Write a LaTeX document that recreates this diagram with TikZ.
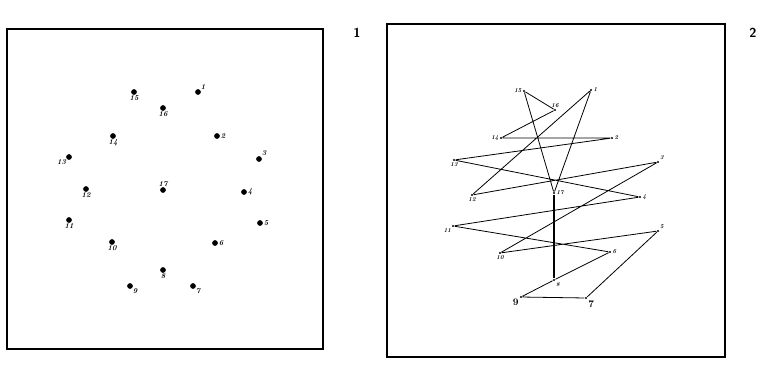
\documentclass[tikz,border=0pt]{standalone}
\usetikzlibrary{positioning}
\begin{document}
\begin{tikzpicture}[x=1pt, y=-1pt, line width=0.8pt,
    frame/.style = {draw, line width=1.2pt},
    dot/.style = {draw, circle, fill, inner sep=0pt, minimum size=4.8pt},
    pt/.style = {circle, fill, inner sep=0pt, minimum size=2.4pt},
    num/.style = {font=\fontsize{7.5}{7.5}\selectfont\bfseries\itshape, inner sep=0.6pt},
    tnum/.style = {font=\fontsize{6}{6}\selectfont\bfseries\itshape, inner sep=0.6pt},
    bnum/.style = {font=\fontsize{10}{10}\selectfont\bfseries, inner sep=0.8pt},
    sheet/.style = {font=\sffamily\bfseries\fontsize{13}{13}\selectfont, inner sep=1pt}]
    \useasboundingbox (0,0) rectangle (760,368);
    % first sheet: the points only
    \draw[frame] (7,29) rectangle (323,349);
    \node[sheet] (n1) at (357,33) {1};
    \node[dot, label={[num]above right:1}] (a1) at (198,92) {};
    \node[dot, label={[num]right:2}] (a2) at (217,136) {};
    \node[dot, label={[num]above right:3}] (a3) at (259,159) {};
    \node[dot, label={[num]right:4}] (a4) at (244,192) {};
    \node[dot, label={[num]right:5}] (a5) at (260,223) {};
    \node[dot, label={[num]right:6}] (a6) at (215,243) {};
    \node[dot, label={[num]below right:7}] (a7) at (193,286) {};
    \node[dot, label={[num]below:8}] (a8) at (163,270) {};
    \node[dot, label={[num]below right:9}] (a9) at (130,286) {};
    \node[dot, label={[num]below:10}] (a10) at (112,242) {};
    \node[dot, label={[num]below:11}] (a11) at (69,220) {};
    \node[dot, label={[num]below:12}] (a12) at (86,189) {};
    \node[dot, label={[num]below left:13}] (a13) at (69,157) {};
    \node[dot, label={[num]below:14}] (a14) at (113,136) {};
    \node[dot, label={[num]below:15}] (a15) at (134,92) {};
    \node[dot, label={[num]below:16}] (a16) at (163,108) {};
    \node[dot, label={[num]above:17}] (a17) at (163,190) {};
    % second sheet: the points joined up
    \draw[frame] (387,24) rectangle (725,357);
    \node[sheet] (n2) at (753,33) {2};
    \node[pt, label={[tnum]right:1}] (b1) at (591,90) {};
    \node[pt, label={[tnum]right:2}] (b2) at (612,138) {};
    \node[pt, label={[tnum]above right:3}] (b3) at (658,162) {};
    \node[pt, label={[tnum]right:4}] (b4) at (640,197) {};
    \node[pt, label={[tnum]above right:5}] (b5) at (658,231) {};
    \node[pt, label={[tnum]right:6}] (b6) at (610,252) {};
    \node[pt, label={[bnum]below right:7}] (b7) at (586,298) {};
    \node[pt, label={[tnum]below right:8}] (b8) at (554,280) {};
    \node[pt, label={[bnum]below left:9}] (b9) at (521,297) {};
    \node[pt, label={[tnum]below:10}] (b10) at (500,253) {};
    \node[pt, label={[tnum]below left:11}] (b11) at (453,226) {};
    \node[pt, label={[tnum]below:12}] (b12) at (472,195) {};
    \node[pt, label={[tnum]below:13}] (b13) at (454,160) {};
    \node[pt, label={[tnum]left:14}] (b14) at (501,138) {};
    \node[pt, label={[tnum]left:15}] (b15) at (524,91) {};
    \node[pt, label={[tnum]above:16}] (b16) at (555,110) {};
    \node[pt, label={[tnum]right:17}] (b17) at (554,193) {};
    \draw (b15) -- (b16) -- (b14) -- (b2) -- (b13) -- (b4) -- (b11) -- (b6) -- (b8) -- (b9)
          -- (b7) -- (b5) -- (b10) -- (b3) -- (b12) -- (b1) -- (b17) -- (b15);
    \draw[line width=1.9pt] (b17) -- (b8);
\end{tikzpicture}
\end{document}
